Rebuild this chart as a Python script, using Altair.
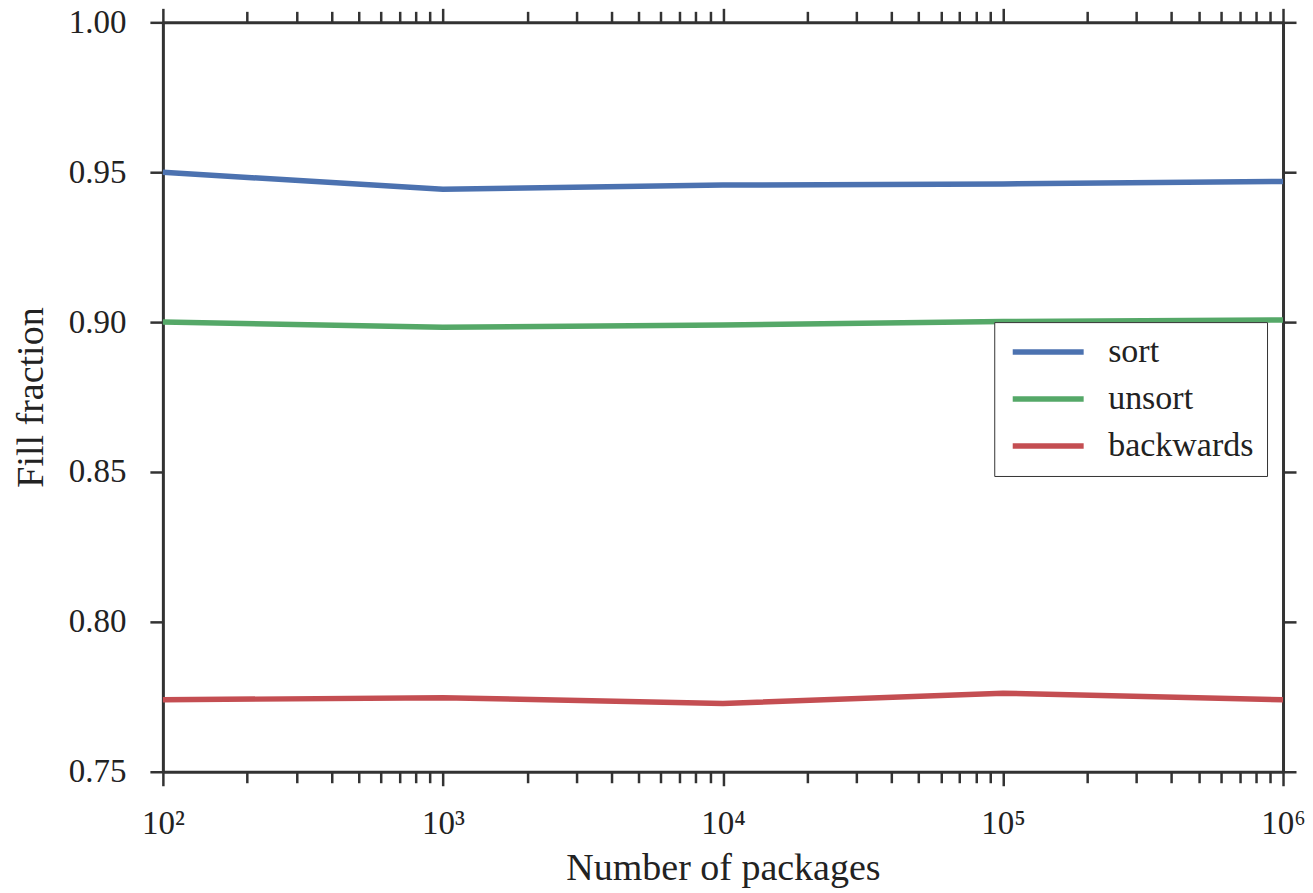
import altair as alt
import pandas as pd

packages = [100, 1000, 10000, 100000, 1000000]
sort_vals = [0.9500, 0.9443, 0.9457, 0.9461, 0.9469]
unsort_vals = [0.9000, 0.8983, 0.8990, 0.9002, 0.9007]
backwards_vals = [0.7740, 0.7747, 0.7728, 0.7762, 0.7740]
series = ["sort", "unsort", "backwards"]
colors = ["#4C72B0", "#55A868", "#C44E52"]

y_ticks = [0.75, 0.80, 0.85, 0.90, 0.95, 1.00]
x_ticks = [m * 10 ** e for e in range(2, 6) for m in range(1, 10)] + [10 ** 6]

rows = []
for name, vals in zip(series, [sort_vals, unsort_vals, backwards_vals]):
    for p, v in zip(packages, vals):
        rows.append({"packages": p, "fill": v, "series": name})
df = pd.DataFrame(rows)

FONT = "Liberation Serif"
DARK = "#333333"
is_major = "abs(log(datum.value)/LN10 - round(log(datum.value)/LN10)) < 1e-6"
sup = "['⁰','¹','²','³','⁴','⁵','⁶'][round(log(datum.value)/LN10)]"

xscale = alt.Scale(type="log", domain=[100, 1000000], nice=False)
yscale = alt.Scale(domain=[0.75, 1.0], nice=False, zero=False)

tick_size_x = {"condition": {"test": is_major, "value": 14}, "value": 11}

x_bottom = alt.Axis(
    orient="bottom", values=x_ticks, tickSize=tick_size_x,
    labelExpr=f"({is_major}) ? '10' + {sup} : ''",
    labelOverlap=False, labelFlush=False, labelBound=False,
    labelPadding=22, title="Number of packages", titlePadding=9, grid=False,
)
y_left = alt.Axis(
    orient="left", values=y_ticks, format=".2f", tickSize=13,
    labelPadding=24, title="Fill fraction", titlePadding=18, grid=False,
    labelFlush=False,
)
x_top = alt.Axis(orient="top", values=x_ticks, tickSize=tick_size_x,
                 labels=False, title=None, grid=False)
y_right = alt.Axis(orient="right", values=y_ticks, tickSize=13,
                   labels=False, title=None, grid=False)

lines = alt.Chart(df).mark_line(strokeWidth=5.5, strokeCap="butt").encode(
    x=alt.X("packages:Q", scale=xscale, axis=x_bottom),
    y=alt.Y("fill:Q", scale=yscale, axis=y_left),
    color=alt.Color(
        "series:N",
        scale=alt.Scale(domain=series, range=colors),
        sort=series,
        legend=alt.Legend(
            title=None, orient="none", legendX=832, legendY=300,
            symbolType="M-3,0H3", symbolSize=560, symbolStrokeWidth=5.5,
            symbolOffset=24, labelOffset=43,
            labelFont=FONT, labelFontSize=34, labelColor="#222222",
            rowPadding=13, padding=13, strokeColor=DARK, fillColor="white",
            cornerRadius=0,
        ),
    ),
)

frame = alt.Chart(df).mark_point(opacity=0).encode(
    x=alt.X("packages:Q", scale=xscale, axis=x_top),
    y=alt.Y("fill:Q", scale=yscale, axis=y_right),
)

chart = (
    alt.layer(lines, frame)
    .resolve_axis(x="independent", y="independent")
    .properties(
        width=1121, height=750,
        autosize=alt.AutoSizeParams(type="none"),
        padding={"left": 155, "top": 14, "right": 22, "bottom": 118},
        background="white",
    )
    .configure_view(stroke=None)
    .configure_axis(
        domainColor=DARK, domainWidth=3, tickColor=DARK, tickWidth=2.5,
        labelFont=FONT, labelFontSize=33, labelColor="#222222",
        titleFont=FONT, titleFontSize=38, titleColor="#222222",
        titleFontWeight="normal",
    )
)

chart.save("out.html", embed_options={"renderer": "svg", "actions": False})
